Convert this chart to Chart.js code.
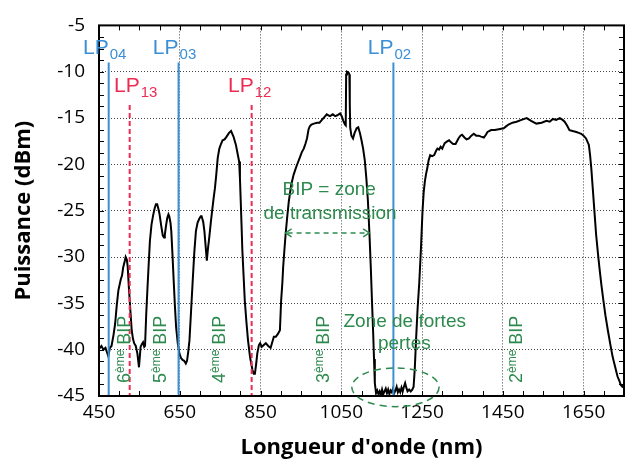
<!DOCTYPE html>
<html>
<head>
<meta charset="utf-8">
<script src="https://cdn.jsdelivr.net/npm/chart.js@4"></script>
<style>
  html, body { margin: 0; padding: 0; background: #fff; }
</style>
</head>
<body>
<canvas id="spectre" width="629" height="461"></canvas>
<script>
// Spectre transmis (longueur d'onde en nm, puissance en dBm)
const wavelengths = [
  450, 456, 461, 466, 470, 473, 477, 481, 486, 490, 494, 498, 504, 507, 510, 514, 516, 519, 521, 524,
  528, 531, 534, 537, 541, 545, 549, 553, 556, 559, 562, 564, 567, 570, 573, 576, 580, 584, 588, 591,
  594, 597, 600, 604, 608, 611, 613, 616, 619, 622, 624, 627, 629, 632, 635, 638, 641, 645, 649, 653,
  657, 661, 665, 668, 671, 674, 678, 682, 686, 690, 694, 698, 702, 704, 708, 711, 714, 717, 720, 723,
  727, 731, 734, 737, 740, 744, 748, 752, 756, 761, 766, 772, 777, 783, 789, 793, 797, 799, 801, 803,
  805, 808, 811, 815, 819, 824, 830, 833, 836, 839, 842, 846, 849, 853, 858, 863, 869, 875, 879, 883,
  888, 893, 898, 901, 904, 906, 909, 912, 916, 920, 926, 932, 939, 947, 952, 957, 961, 965, 969, 972,
  976, 982, 990, 996, 1002, 1008, 1014, 1018, 1022, 1029, 1035, 1040, 1047, 1051, 1055, 1059, 1061, 1062, 1064, 1068,
  1070, 1071, 1072, 1075, 1079, 1083, 1088, 1092, 1096, 1100, 1104, 1108, 1112, 1116, 1120, 1123, 1126, 1129, 1131, 1133,
  1136, 1139, 1142, 1145, 1148, 1151, 1154, 1157, 1160, 1163, 1166, 1169, 1172, 1175, 1178, 1181, 1184, 1187, 1190, 1193,
  1196, 1199, 1202, 1205, 1208, 1211, 1214, 1218, 1222, 1226, 1229, 1232, 1235, 1239, 1243, 1247, 1251, 1254, 1257, 1260,
  1263, 1266, 1270, 1275, 1280, 1285, 1288, 1292, 1296, 1300, 1306, 1313, 1317, 1321, 1327, 1333, 1340, 1345, 1349, 1355,
  1360, 1366, 1372, 1378, 1384, 1390, 1396, 1403, 1408, 1412, 1421, 1430, 1440, 1452, 1458, 1464, 1474, 1484, 1496, 1509,
  1520, 1533, 1546, 1558, 1566, 1574, 1582, 1591, 1598, 1603, 1609, 1615, 1623, 1632, 1638, 1644, 1650, 1656, 1660, 1663,
  1666, 1669, 1672, 1675, 1678, 1681, 1685, 1689, 1694, 1699, 1704, 1710, 1716, 1722, 1726, 1730, 1734, 1738, 1742, 1746,
  1750
];
const power = [
  -39.9, -39.6, -40.0, -39.8, -40.3, -40.7, -39.8, -39.6, -38.4, -37.2, -35.2, -33.6, -32.4, -32.0, -31.1, -30.4, -30.0, -30.3, -31.0, -33.3,
  -36.0, -37.9, -38.8, -39.3, -39.6, -40.4, -41.9, -39.7, -39.4, -39.2, -39.7, -39.6, -36.1, -33.4, -30.8, -28.3, -26.5, -25.5, -24.7, -24.3,
  -24.3, -24.8, -25.4, -26.6, -27.7, -27.9, -27.6, -26.6, -25.8, -25.4, -25.6, -26.3, -27.2, -29.8, -32.6, -35.3, -37.6, -39.3, -40.4, -40.9,
  -41.1, -41.2, -41.5, -41.2, -40.2, -39.0, -35.8, -32.6, -29.5, -27.2, -26.3, -25.9, -25.6, -25.6, -26.2, -27.2, -28.8, -30.4, -29.0, -27.9,
  -26.2, -24.7, -23.6, -22.6, -21.3, -19.3, -18.3, -17.8, -17.4, -17.3, -17.0, -16.6, -16.4, -17.0, -17.9, -18.8, -19.7, -21.5, -24.0, -26.6,
  -29.3, -32.0, -34.7, -37.0, -39.0, -40.8, -42.2, -42.6, -42.6, -41.6, -40.4, -39.5, -39.3, -39.7, -39.5, -39.3, -39.6, -39.8, -39.2, -38.6,
  -38.6, -38.3, -37.9, -34.7, -32.8, -31.1, -29.3, -27.6, -25.7, -24.0, -22.2, -21.1, -20.2, -19.3, -18.7, -18.3, -17.8, -17.2, -16.2, -15.9,
  -15.7, -15.6, -15.5, -15.5, -15.2, -14.9, -14.6, -14.7, -14.8, -14.6, -14.8, -14.7, -14.5, -14.8, -15.3, -15.7, -15.8, -10.3, -10.0, -10.1,
  -10.3, -13.5, -16.0, -16.9, -17.2, -16.6, -16.1, -16.0, -16.6, -17.4, -18.3, -19.5, -21.5, -24.0, -27.8, -31.1, -34.8, -38.3, -41.0, -43.6,
  -44.7, -44.4, -44.8, -44.5, -44.9, -44.3, -44.8, -44.5, -44.2, -44.7, -44.3, -44.8, -44.4, -44.6, -44.2, -44.7, -44.4, -44.0, -44.6, -44.3,
  -44.6, -44.1, -44.5, -44.0, -43.6, -44.1, -44.5, -44.3, -44.5, -44.3, -44.0, -42.0, -39.0, -35.5, -32.8, -29.3, -25.1, -23.0, -21.8, -21.0,
  -20.4, -19.6, -19.0, -19.1, -19.0, -18.5, -18.3, -18.4, -18.1, -18.3, -17.7, -17.5, -17.4, -17.6, -17.8, -17.8, -17.2, -16.9, -16.8, -17.1,
  -17.3, -17.2, -16.9, -16.7, -16.9, -16.9, -17.0, -17.1, -16.8, -16.5, -16.3, -16.3, -16.2, -16.1, -15.9, -15.7, -15.5, -15.4, -15.2, -15.0,
  -15.3, -15.6, -15.5, -15.3, -15.4, -15.1, -15.2, -15.0, -15.2, -15.4, -15.8, -16.3, -16.4, -16.5, -16.6, -16.7, -16.9, -17.2, -17.6, -17.9,
  -19.0, -20.4, -22.2, -24.0, -25.8, -27.6, -29.4, -31.1, -33.0, -34.7, -36.3, -37.9, -39.4, -40.8, -41.5, -42.2, -42.9, -43.3, -43.8, -44.0,
  -43.8
];

// Modes de coeur (LP0x en bleu, LP1x en rouge)
const modeNames = ['LP04', 'LP03', 'LP02', 'LP13', 'LP12'];
const modeWavelengths = [474, 647, 1179, 526, 828];
const modeTops = [-9, -9, -9, -13.6, -13.6];

// Ordres des bandes interdites photoniques
const bipOrders = ['6', '5', '4', '3', '2'];
const bipWavelengths = [527, 616, 763, 1020, 1497];

// Graduations principales
const xTicks = [450, 650, 850, 1050, 1250, 1450, 1650];
const yTicks = [-45, -40, -35, -30, -25, -20, -15, -10, -5];

const BLUE = '#3a8fd6';
const RED = '#ec2c52';
const GREEN = '#2d8a4e';

const isMajorY = (v) => yTicks.some((t) => Math.abs(t - v) < 1e-6);

// Cadre noir + graduations vers l'interieur sur les 4 cotes
const framePlugin = {
  id: 'frame',
  afterDatasetsDraw(chart) {
    const { ctx, chartArea: a, scales } = chart;
    ctx.save();
    ctx.strokeStyle = '#000';
    ctx.lineWidth = 1;
    ctx.beginPath();
    scales.x.ticks.forEach((t) => {
      const px = Math.round(scales.x.getPixelForValue(t.value)) + 0.5;
      ctx.moveTo(px, a.bottom); ctx.lineTo(px, a.bottom - 5);
      ctx.moveTo(px, a.top); ctx.lineTo(px, a.top + 5);
    });
    scales.y.ticks.forEach((t) => {
      const py = Math.round(scales.y.getPixelForValue(t.value)) + 0.5;
      ctx.moveTo(a.left, py); ctx.lineTo(a.left + 5, py);
      ctx.moveTo(a.right, py); ctx.lineTo(a.right - 5, py);
    });
    ctx.stroke();
    ctx.lineWidth = 2;
    ctx.strokeRect(a.left, a.top, a.right - a.left, a.bottom - a.top);
    ctx.restore();
  }
};

// Etiquettes, fleche, ellipse
const notesPlugin = {
  id: 'notes',
  afterDraw(chart) {
    const { ctx, scales: { x, y } } = chart;
    ctx.save();

    // noms des modes
    const labelShift = { LP04: 0, LP03: 0, LP02: 0, LP13: 10, LP12: 2 };
    modeNames.forEach((name, i) => {
      const px = x.getPixelForValue(modeWavelengths[i]) + labelShift[name];
      const blue = name.startsWith('LP0');
      const py = y.getPixelForValue(modeTops[i]) - (blue ? 8 : 13);
      ctx.fillStyle = blue ? BLUE : RED;
      ctx.textBaseline = 'alphabetic';
      ctx.font = '21px "Liberation Sans", Arial, sans-serif';
      ctx.textAlign = 'right';
      ctx.fillText('LP', px, py);
      ctx.font = '15px "Liberation Sans", Arial, sans-serif';
      ctx.textAlign = 'left';
      ctx.fillText(name.slice(2), px + 1, py + 5);
    });

    ctx.fillStyle = GREEN;
    ctx.strokeStyle = GREEN;
    ctx.font = '19px "Liberation Sans", Arial, sans-serif';
    ctx.textAlign = 'center';
    ctx.fillText('BIP = zone', x.getPixelForValue(1020), y.getPixelForValue(-23.3));
    ctx.fillText('de transmission', x.getPixelForValue(1022), y.getPixelForValue(-25.9));
    ctx.fillText('Zone de fortes', x.getPixelForValue(1207), y.getPixelForValue(-37.55));
    ctx.fillText('pertes', x.getPixelForValue(1206), y.getPixelForValue(-39.9));

    // fleche double en pointilles
    const ax0 = x.getPixelForValue(912);
    const ax1 = x.getPixelForValue(1119);
    const ay = y.getPixelForValue(-27.4);
    ctx.lineWidth = 1.5;
    ctx.setLineDash([5, 4]);
    ctx.beginPath();
    ctx.moveTo(ax0 + 2, ay); ctx.lineTo(ax1 - 2, ay);
    ctx.stroke();
    ctx.setLineDash([]);
    ctx.beginPath();
    ctx.moveTo(ax0 + 6, ay - 4); ctx.lineTo(ax0, ay); ctx.lineTo(ax0 + 6, ay + 4);
    ctx.moveTo(ax1 - 6, ay - 4); ctx.lineTo(ax1, ay); ctx.lineTo(ax1 - 6, ay + 4);
    ctx.stroke();

    // ellipse autour de la zone de pertes
    const ex = x.getPixelForValue(1184);
    const ey = y.getPixelForValue(-44.06);
    const rx = x.getPixelForValue(1184 + 108) - ex;
    const ry = ey - y.getPixelForValue(-44.06 + 2.09);
    ctx.setLineDash([7, 5]);
    ctx.beginPath();
    ctx.ellipse(ex, ey, rx, ry, 0, 0, Math.PI * 2);
    ctx.stroke();
    ctx.setLineDash([]);

    // "n-eme BIP" ecrit verticalement
    bipOrders.forEach((order, i) => {
      ctx.save();
      ctx.translate(x.getPixelForValue(bipWavelengths[i]), y.getPixelForValue(-43.6));
      ctx.rotate(-Math.PI / 2);
      ctx.textAlign = 'left';
      ctx.textBaseline = 'alphabetic';
      let cx = 0;
      ctx.font = '18px "Liberation Sans", Arial, sans-serif';
      ctx.fillText(order, cx, 0);
      cx += ctx.measureText(order).width;
      ctx.font = '12px "Liberation Sans", Arial, sans-serif';
      ctx.fillText('ème', cx, -6);
      cx += ctx.measureText('ème').width;
      ctx.font = '18px "Liberation Sans", Arial, sans-serif';
      ctx.fillText(' BIP', cx, 0);
      ctx.restore();
    });

    ctx.restore();
  }
};

const modeDatasets = modeNames.map((name, i) => {
  const blue = name.startsWith('LP0');
  return {
    label: name,
    data: [
      { x: modeWavelengths[i], y: modeTops[i] },
      { x: modeWavelengths[i], y: -45 }
    ],
    borderColor: blue ? BLUE : RED,
    borderWidth: 2,
    borderDash: blue ? [] : [5, 3],
    pointRadius: 0,
    order: 1
  };
});

const ctx = document.getElementById('spectre').getContext('2d');
new Chart(ctx, {
  type: 'line',
  data: {
    datasets: [
      {
        label: 'Spectre',
        data: wavelengths.map((w, i) => ({ x: w, y: power[i] })),
        borderColor: '#000',
        borderWidth: 2,
        pointRadius: 0,
        tension: 0,
        order: 2
      },
      ...modeDatasets
    ]
  },
  options: {
    responsive: false,
    animation: false,
    layout: { padding: { top: 23, right: 1, left: 0, bottom: 0 } },
    plugins: {
      legend: { display: false },
      tooltip: { enabled: false }
    },
    scales: {
      x: {
        type: 'linear',
        min: 450,
        max: 1750,
        afterFit: (scale) => { scale.height = 65; },
        border: { display: false, dash: [1, 2] },
        grid: {
          drawTicks: false,
          lineWidth: 1,
          color: (c) => (xTicks.includes(c.tick.value) && c.tick.value !== 450) ? '#444' : 'rgba(0,0,0,0)'
        },
        ticks: {
          stepSize: 50,
          autoSkip: false,
          maxRotation: 0,
          padding: 5,
          color: '#000',
          font: { family: '"Open Sans", sans-serif', size: 19 },
          callback: (v) => (xTicks.includes(v) ? String(v) : '')
        },
        title: {
          display: true,
          text: "Longueur d'onde (nm)",
          color: '#000',
          font: { family: '"Open Sans", sans-serif', size: 22, weight: 'bold' },
          padding: { top: 0, bottom: 0 }
        }
      },
      y: {
        min: -45,
        max: -5,
        afterFit: (scale) => { scale.width = 99; },
        border: { display: false, dash: [1, 2] },
        grid: {
          drawTicks: false,
          lineWidth: 1,
          color: (c) => (isMajorY(c.tick.value) && c.tick.value > -44 && c.tick.value < -6) ? '#444' : 'rgba(0,0,0,0)'
        },
        ticks: {
          stepSize: 1.25,
          autoSkip: false,
          padding: 14,
          color: '#000',
          font: { family: '"Open Sans", sans-serif', size: 19 },
          callback: (v) => (isMajorY(v) ? String(Math.round(v)) : '')
        },
        title: {
          display: true,
          text: 'Puissance (dBm)',
          color: '#000',
          font: { family: '"Open Sans", sans-serif', size: 22, weight: 'bold' },
          padding: { top: 11, bottom: 0 }
        }
      }
    }
  },
  plugins: [framePlugin, notesPlugin]
});
</script>
</body>
</html>
